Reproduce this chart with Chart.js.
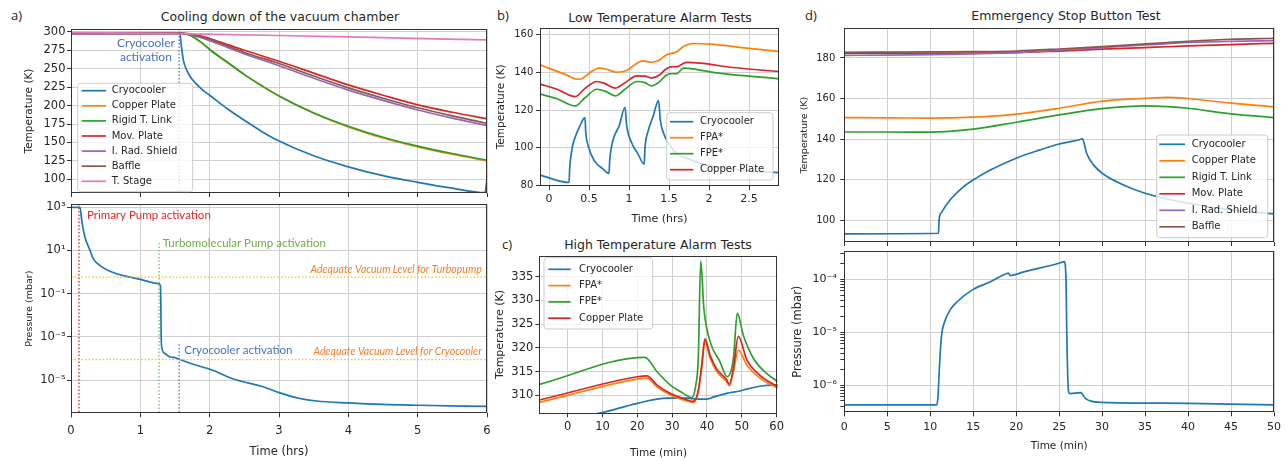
<!DOCTYPE html>
<html>
<head>
<meta charset="utf-8">
<title>Vacuum chamber tests</title>
<script src="https://cdn.jsdelivr.net/npm/chart.js"></script>
<style>
  body { margin: 0; background: #fff; }
  #fig { position: relative; width: 1286px; height: 461px; overflow: hidden; font-family: "DejaVu Sans", sans-serif; color: #262626; }
  #fig canvas { position: absolute; }
  .tag { position: absolute; font: 13px "Open Sans", sans-serif; line-height: 16px; }
  .ttl { position: absolute; font-size: 12.5px; line-height: 16px; white-space: nowrap; transform: translateX(-50%); }
</style>
</head>
<body>
<div id="fig">
  <div class="tag" style="left:11px;top:7px">a)</div>
  <div class="ttl" style="left:280px;top:9px">Cooling down of the vacuum chamber</div>
  <div class="tag" style="left:497px;top:7px">b)</div>
  <div class="ttl" style="left:660px;top:10px">Low Temperature Alarm Tests</div>
  <div class="tag" style="left:502px;top:236px">c)</div>
  <div class="ttl" style="left:658px;top:237px">High Temperature Alarm Tests</div>
  <div class="tag" style="left:805px;top:7px">d)</div>
  <div class="ttl" style="left:1066px;top:8px">Emmergency Stop Button Test</div>

  <canvas id="coolTemp" width="490" height="200" style="left:0;top:0"></canvas>
  <canvas id="coolPress" width="490" height="261" style="left:0;top:200px"></canvas>
  <canvas id="lowAlarm" width="300" height="228" style="left:485px;top:0"></canvas>
  <canvas id="highAlarm" width="300" height="231" style="left:485px;top:230px"></canvas>
  <canvas id="stopTemp" width="496" height="246" style="left:790px;top:0"></canvas>
  <canvas id="stopPress" width="496" height="215" style="left:790px;top:246px"></canvas>
</div>

<script>
// ---- a) cooling down (time in hrs, temperature in K)
const coolTimeCryo = [0, 1.57, 1.59, 1.62, 1.66, 1.72, 1.8, 1.9, 2.0, 2.25, 2.5, 2.75, 3.0, 3.5, 4.0, 4.5, 5.0, 5.5, 5.97, 6.0];
const coolCryo     = [298, 298, 282, 262, 250, 239, 230, 221, 214, 196, 180, 165, 152, 132, 117, 105, 96, 88, 82, 100];
const coolTimeLink = [0, 1.6, 1.7, 1.8, 1.9, 2.0, 2.25, 2.5, 2.75, 3.0, 3.5, 4.0, 4.5, 5.0, 5.5, 6.0];
const coolCopper   = [298, 298, 296, 291, 284, 276, 259, 242, 227, 213, 190, 171, 156, 144, 134, 125];
const coolLink     = [298, 298, 296, 291, 284, 276, 259, 242, 227, 213, 190, 172, 157, 145, 135, 126];
const coolTimeMov  = [0, 1.6, 1.8, 2.0, 2.25, 2.5, 3.0, 3.5, 4.0, 4.5, 5.0, 5.5, 6.0];
const coolMov      = [298, 298, 296, 291, 283, 275, 260, 244, 228, 214, 201, 191, 182];
const coolShield   = [298, 298, 294, 288, 279, 270, 254, 237, 221, 207, 194, 183, 173];
const coolBaffle   = [298, 298, 295, 290, 281, 272, 257, 240, 224, 210, 197, 186, 176];
const coolTimeStage = [0, 1.5, 3, 4.5, 6];
const coolStage     = [299, 297.5, 295, 292, 289];

// ---- a) pumping (time in hrs, pressure in mbar)
const pumpTime  = [0, 0.13, 0.154, 0.2, 0.274, 0.32, 0.42, 0.56, 0.8, 1.0, 1.26, 1.29, 1.295, 1.3, 1.31, 1.36, 1.43, 1.5, 1.57, 1.76, 1.96, 2.1, 2.24, 2.39, 2.55, 2.77, 3.0, 3.3, 3.54, 4.0, 4.5, 5.0, 6.0];
const pumpPress = [1000, 1000, 257, 43, 10.2, 4.2, 2.0, 1.1, 0.63, 0.46, 0.29, 0.24, 0.048, 1.35e-3, 3.2e-4, 1.66e-4, 1.17e-4, 1.1e-4, 8.9e-5, 5.4e-5, 3.5e-5, 2.4e-5, 1.5e-5, 1.0e-5, 7.4e-6, 4.9e-6, 2.6e-6, 1.4e-6, 1.07e-6, 8.7e-7, 7.4e-7, 6.8e-7, 6.0e-7];

// ---- b) low temperature alarm (time in hrs, K)
const lowTimeCryo = [-0.11, 0.25, 0.26, 0.29, 0.33, 0.38, 0.45, 0.46, 0.49, 0.57, 0.67, 0.75, 0.76, 0.8, 0.88, 0.95, 0.97, 1.03, 1.11, 1.19, 1.2, 1.24, 1.3, 1.37, 1.39, 1.43, 1.5, 1.6, 1.72, 2.0, 2.47, 2.875];
const lowCryo     = [85.6, 81.7, 90, 100, 106, 111, 116, 108, 101, 93, 89, 86.5, 94, 104, 112, 121.5, 112, 103, 97, 91.4, 100, 109, 116.5, 125, 115, 108, 102, 97, 94.5, 90.6, 88, 86.9];
const lowTimeFpa  = [-0.11, 0, 0.22, 0.35, 0.42, 0.53, 0.62, 0.72, 0.85, 0.97, 1.1, 1.18, 1.28, 1.37, 1.47, 1.55, 1.6, 1.68, 1.8, 2.01, 2.47, 2.875];
const lowFpa      = [143.9, 142.2, 138.6, 136.3, 136.8, 140.4, 142.2, 141.6, 140, 140.9, 144.8, 146, 145.3, 146.2, 149.2, 150.1, 150.8, 153.6, 155.2, 154.9, 152.8, 151];
const lowTimeFpe  = [-0.11, 0.1, 0.33, 0.45, 0.6, 0.7, 0.83, 0.95, 1.1, 1.2, 1.28, 1.38, 1.47, 1.53, 1.6, 1.68, 1.8, 2.05, 2.875];
const lowFpe      = [128.4, 126, 122.2, 126.5, 131, 130, 127.5, 131, 135.1, 134.5, 132.8, 135, 138.6, 139.2, 139.3, 142.2, 141.8, 139.9, 136.5];
const lowTimeCu   = [-0.11, 0.1, 0.33, 0.45, 0.6, 0.7, 0.83, 0.95, 1.1, 1.2, 1.28, 1.38, 1.45, 1.52, 1.6, 1.72, 1.89, 2.3, 2.875];
const lowCu       = [133.7, 131, 127.1, 131.5, 135.1, 134, 131.6, 134.5, 138.1, 138, 136.9, 138.5, 141.3, 142.8, 143, 145.2, 144.8, 142.5, 140.4];

// ---- c) high temperature alarm (time in min, K)
const highTimeCryo = [5, 10.2, 20, 28.4, 34.2, 37, 39.9, 41.8, 45.6, 49.5, 51.4, 56.2, 60.3];
const highCryo     = [305.6, 306.4, 308.3, 309.4, 309.4, 309.2, 309.2, 309.6, 310.4, 310.9, 311.3, 312, 312.2];
const highTimeFpa  = [-8.1, 20, 22.7, 25.6, 29.4, 33.2, 36.1, 37.5, 38.5, 39.4, 40.9, 42.8, 45.6, 46.4, 47.6, 49, 51.4, 55.2, 60.3];
const highFpa      = [308.5, 313.4, 313.6, 311.8, 310.1, 309, 308.5, 310.8, 315.7, 321.3, 317.8, 315, 312.9, 312, 315, 319.5, 316.4, 313.6, 311.5];
const highCu       = [309, 313.9, 314.1, 312.2, 310.4, 309.3, 308.7, 311, 316.5, 321.9, 318.4, 315.5, 313.3, 312.3, 315.8, 322.4, 317.5, 314.2, 311.8];
const highTimeFpe  = [-8.1, 22.2, 25.6, 29.4, 33.2, 35.6, 36.8, 37.5, 38.2, 39.1, 40.9, 43.7, 45.8, 47.6, 48.7, 50.4, 53.3, 57.1, 60.3];
const highFpe      = [312.3, 318, 315, 312.2, 310.4, 309.5, 312.2, 317.8, 338.3, 328.3, 321.3, 317.1, 313.9, 317.8, 327.3, 322.7, 317.8, 314.6, 312.9];

// ---- d) emergency stop (time in min)
const stopTimeCryo = [0, 10.96, 11.03, 11.3, 12.3, 13.9, 15, 17, 20, 22.8, 25, 27.5, 27.7, 27.9, 28.2, 29, 30, 32.5, 35, 40, 45, 50];
const stopCryo     = [93.3, 93.6, 100.2, 103.8, 110, 116.6, 119.9, 124.8, 130.6, 134.7, 137.6, 139.9, 140.3, 138, 133, 127.3, 123.2, 117.4, 113.3, 108.4, 105.1, 103.2];
const stopTime     = [0, 5, 10, 15, 20, 25, 30, 35, 37.6, 40, 45, 50];
const stopCopper   = [150.6, 150.5, 150.3, 150.8, 152.3, 155.2, 158.7, 160.1, 160.6, 160, 157.7, 156];
const stopLink     = [143.5, 143.5, 143.4, 144.9, 148.3, 151.9, 155, 156.4, 156, 155.2, 152.4, 150.6];
const stopMov      = [182.3, 182.3, 182.3, 182.4, 182.6, 183.4, 184.3, 185.1, 185.5, 185.9, 186.6, 187.2];
const stopShield   = [181.3, 181.4, 181.6, 182, 182.6, 183.8, 185.1, 186.4, 187, 187.6, 188.2, 188.5];
const stopBaffle   = [182.8, 182.9, 183, 183.1, 183.4, 184.4, 185.6, 186.9, 187.6, 188.2, 189.2, 189.7];
const stopPTime    = [0, 10.76, 10.9, 11.07, 11.3, 11.7, 12.3, 13.1, 15, 17, 18.9, 19.1, 19.3, 20.9, 25, 25.6, 25.8, 25.9, 26.1, 26.3, 27.5, 28.05, 28.8, 30, 40, 50];
const stopPress    = [4.2e-7, 4.2e-7, 6.0e-7, 2.2e-6, 8.2e-6, 1.6e-5, 2.6e-5, 3.7e-5, 6.4e-5, 8.9e-5, 1.28e-4, 1.3e-4, 1.17e-4, 1.37e-4, 2.0e-4, 2.14e-4, 9.5e-5, 7e-6, 7.4e-7, 6.9e-7, 7.2e-7, 5.6e-7, 4.9e-7, 4.7e-7, 4.5e-7, 4.2e-7];

// ---- ticks
const hrsTicks      = [0, 1, 2, 3, 4, 5, 6];
const coolTempTicks = [100, 125, 150, 175, 200, 225, 250, 275, 300];
const pressTicksA   = [1e3, 1e1, 1e-1, 1e-3, 1e-5];
const pressLabelsA  = ['10³', '10¹', '10⁻¹', '10⁻³', '10⁻⁵'];
const lowHrsTicks   = [0, 0.5, 1, 1.5, 2, 2.5];
const lowTempTicks  = [80, 100, 120, 140, 160];
const minTicksC     = [0, 10, 20, 30, 40, 50, 60];
const highTempTicks = [310, 315, 320, 325, 330, 335];
const minTicksD     = [0, 5, 10, 15, 20, 25, 30, 35, 40, 45, 50];
const stopTempTicks = [100, 120, 140, 160, 180];
const pressTicksD   = [1e-4, 1e-5, 1e-6];
const pressLabelsD  = ['10⁻⁴', '10⁻⁵', '10⁻⁶'];
const pressMinorD   = [4e-7, 5e-7, 6e-7, 7e-7, 8e-7, 9e-7, 2e-6, 3e-6, 4e-6, 5e-6, 6e-6, 7e-6, 8e-6, 9e-6,
                       2e-5, 3e-5, 4e-5, 5e-5, 6e-5, 7e-5, 8e-5, 9e-5, 2e-4, 3e-4];

const COL = { blue: '#1f77b4', orange: '#ff7f0e', green: '#2ca02c', red: '#d62728', purple: '#9467bd', brown: '#8c564b', pink: '#e377c2' };
const GRID = '#cfcfcf';
const INK = '#262626';

Chart.defaults.font.family = '"DejaVu Sans", sans-serif';
Chart.defaults.color = INK;

function series(label, color, xs, ys) {
  return {
    label, borderColor: color, backgroundColor: color, borderWidth: 1.7,
    pointRadius: 0, fill: false, cubicInterpolationMode: 'monotone',
    data: xs.map((x, i) => ({ x, y: ys[i] }))
  };
}

function axis(o) {
  return {
    type: o.log ? 'logarithmic' : 'linear',
    min: o.min, max: o.max,
    grid: {
      color: c => (c.tick && c.tick.minor) ? 'rgba(0,0,0,0)' : GRID,
      lineWidth: 1, tickColor: '#333', tickLength: 4, drawTicks: true
    },
    border: { display: false },
    ticks: {
      display: !!o.labels, autoSkip: false, maxRotation: 0, padding: o.pad == null ? 3 : o.pad,
      color: INK, font: { size: o.size || 11 },
      callback: (v, i, t) => {
        if (t[i] && t[i].minor) return '';
        const k = o.ticks.indexOf(v);
        return Array.isArray(o.labels) ? o.labels[k] : String(v);
      }
    },
    title: o.title ? { display: true, text: o.title, color: INK, font: { size: o.tsize }, padding: { top: 0, bottom: o.tpad || 0 } } : { display: false },
    afterBuildTicks: s => {
      s.ticks = o.ticks.map(v => ({ value: v })).concat((o.minor || []).map(v => ({ value: v, minor: true })));
    },
    afterFit: s => {
      if (o.w != null) s.width = o.w;
      if (o.h != null) s.height = o.h;
      s.paddingLeft = s.paddingRight = s.paddingTop = s.paddingBottom = 0;
    }
  };
}

// annotations, axes frame and in-plot legend
function deco(cfg) {
  return {
    id: 'deco',
    afterDatasetsDraw(chart) {
      const { ctx, chartArea: a, scales: { x, y } } = chart;
      ctx.save();
      ctx.beginPath();
      ctx.rect(a.left, a.top, a.right - a.left, a.bottom - a.top);
      ctx.clip();
      ctx.setLineDash([1.5, 2]);
      ctx.lineWidth = 1.3;
      (cfg.lines || []).forEach(m => {
        ctx.strokeStyle = m.color;
        ctx.beginPath();
        if (m.x != null) {
          const px = x.getPixelForValue(m.x);
          ctx.moveTo(px, m.from != null ? y.getPixelForValue(m.from) : a.top);
          ctx.lineTo(px, a.bottom);
        } else {
          const py = y.getPixelForValue(m.y);
          ctx.moveTo(a.left, py);
          ctx.lineTo(a.right, py);
        }
        ctx.stroke();
      });
      ctx.restore();

      ctx.save();
      (cfg.notes || []).forEach(n => {
        ctx.fillStyle = n.color;
        ctx.font = n.font;
        ctx.textAlign = n.align || 'left';
        ctx.textBaseline = 'middle';
        ctx.fillText(n.text, x.getPixelForValue(n.x), y.getPixelForValue(n.y));
      });

      ctx.strokeStyle = '#333';
      ctx.lineWidth = 1;
      ctx.strokeRect(Math.round(a.left) + 0.5, Math.round(a.top) + 0.5, Math.round(a.right - a.left) - 1, Math.round(a.bottom - a.top) - 1);

      const L = cfg.legend;
      if (L) {
        ctx.beginPath();
        if (ctx.roundRect) ctx.roundRect(L.x, L.y, L.w, L.h, 3); else ctx.rect(L.x, L.y, L.w, L.h);
        ctx.fillStyle = 'rgba(255,255,255,0.8)';
        ctx.fill();
        ctx.strokeStyle = '#cccccc';
        ctx.stroke();
        ctx.font = '10px "DejaVu Sans"';
        ctx.textAlign = 'left';
        ctx.textBaseline = 'middle';
        chart.data.datasets.forEach((d, i) => {
          const yy = L.first + i * L.row;
          ctx.strokeStyle = d.borderColor;
          ctx.lineWidth = 1.7;
          ctx.beginPath();
          ctx.moveTo(L.sw0, yy);
          ctx.lineTo(L.sw1, yy);
          ctx.stroke();
          ctx.fillStyle = INK;
          ctx.fillText(d.label, L.tx, yy);
        });
      }
      ctx.restore();
    }
  };
}

function makeChart(id, datasets, cfg) {
  // later series sit on top, as in the original figure
  datasets.forEach((d, i) => { d.order = datasets.length - i; });
  return new Chart(document.getElementById(id), {
    type: 'line',
    data: { datasets },
    options: {
      responsive: false, animation: false, events: [],
      layout: { padding: cfg.pad },
      plugins: { legend: { display: false }, tooltip: { enabled: false }, title: { display: false } },
      scales: { x: cfg.x, y: cfg.y }
    },
    plugins: [deco(cfg)]
  });
}

// a) top
makeChart('coolTemp', [
  series('Cryocooler', COL.blue, coolTimeCryo, coolCryo),
  series('Copper Plate', COL.orange, coolTimeLink, coolCopper),
  series('Rigid T. Link', COL.green, coolTimeLink, coolLink),
  series('Mov. Plate', COL.red, coolTimeMov, coolMov),
  series('I. Rad. Shield', COL.purple, coolTimeMov, coolShield),
  series('Baffle', COL.brown, coolTimeMov, coolBaffle),
  series('T. Stage', COL.pink, coolTimeStage, coolStage)
], {
  pad: { left: 22.7, right: 3, top: 29, bottom: 0 },
  x: axis({ min: 0, max: 6, ticks: hrsTicks, labels: false, h: 7 }),
  y: axis({ min: 81.5, max: 303.8, ticks: coolTempTicks, labels: true, size: 11.5, pad: 1.5, w: 48.3, title: 'Temperature (K)', tsize: 10.5 }),
  lines: [{ x: 1.56, color: '#4472c4' }],
  notes: [
    { text: 'Cryocooler', x: 1.08, y: 285, color: '#4472c4', align: 'center', font: '12px Lato' },
    { text: 'activation', x: 1.08, y: 265, color: '#4472c4', align: 'center', font: '12px Lato' }
  ],
  legend: { x: 77.7, y: 83.3, w: 115, h: 108.4, first: 90.7, row: 15.1, sw0: 81.7, sw1: 106, tx: 111.7 }
});

// a) bottom
makeChart('coolPress', [
  series('Pressure', COL.blue, pumpTime, pumpPress)
], {
  pad: { left: 23.6, right: 3, top: 4, bottom: 0 },
  x: axis({ min: 0, max: 6, ticks: hrsTicks, labels: true, size: 11.5, pad: 7, h: 47.7, title: 'Time (hrs)', tsize: 11.5, tpad: 1.8 }),
  y: axis({ log: true, min: 2.88e-7, max: 1422, ticks: pressTicksA, labels: pressLabelsA, size: 11.5, pad: 1.5, w: 47.4, title: 'Pressure (mbar)', tsize: 9.5 }),
  lines: [
    { x: 0.115, color: '#e0262b' },
    { x: 1.27, from: 22, color: '#7cbf4b' },
    { x: 1.56, from: 4.6e-4, color: '#4472c4' },
    { y: 0.58, color: '#ffc000' },
    { y: 8.9e-5, color: '#ffc000' }
  ],
  notes: [
    { text: 'Primary Pump activation', x: 0.23, y: 407, color: '#e0262b', font: '11.5px Lato' },
    { text: 'Turbomolecular Pump activation', x: 1.323, y: 22, color: '#70ad47', font: '11.5px Lato' },
    { text: 'Adequate Vacuum Level for Turbopump', x: 5.924, y: 1.3, color: '#ed7d31', align: 'right', font: 'italic 10.5px Lato' },
    { text: 'Cryocooler activation', x: 1.634, y: 2.4e-4, color: '#4472c4', font: '11.5px Lato' },
    { text: 'Adequate Vacuum Level for Cryocooler', x: 5.924, y: 2.0e-4, color: '#ed7d31', align: 'right', font: 'italic 10.5px Lato' }
  ]
});

// b)
makeChart('lowAlarm', [
  series('Cryocooler', COL.blue, lowTimeCryo, lowCryo),
  series('FPA*', COL.orange, lowTimeFpa, lowFpa),
  series('FPE*', COL.green, lowTimeFpe, lowFpe),
  series('Copper Plate', COL.red, lowTimeCu, lowCu)
], {
  pad: { left: 9.7, right: 6, top: 28, bottom: 0 },
  x: axis({ min: -0.1125, max: 2.875, ticks: lowHrsTicks, labels: true, size: 11, pad: 3, h: 42.3, title: 'Time (hrs)', tsize: 11, tpad: 2.4 }),
  y: axis({ min: 80, max: 163.4, ticks: lowTempTicks, labels: true, size: 10, pad: 2.7, w: 45.3, title: 'Temperature (K)', tsize: 10.5 }),
  legend: { x: 181.7, y: 112.7, w: 106.3, h: 67.3, first: 121.7, row: 16, sw0: 185, sw1: 208.3, tx: 215 }
});

// c)
makeChart('highAlarm', [
  series('Cryocooler', COL.blue, highTimeCryo, highCryo),
  series('FPA*', COL.orange, highTimeFpa, highFpa),
  series('FPE*', COL.green, highTimeFpe, highFpe),
  series('Copper Plate', COL.red, highTimeFpa, highCu)
], {
  pad: { left: 8.4, right: 7.3, top: 25.7, bottom: 0 },
  x: axis({ min: -8.15, max: 60.3, ticks: minTicksC, labels: true, size: 11.5, pad: 3, h: 47.7, title: 'Time (min)', tsize: 10.5, tpad: 1 }),
  y: axis({ min: 306.2, max: 339.4, ticks: highTempTicks, labels: true, size: 11.5, pad: 2, w: 45.9, title: 'Temperature (K)', tsize: 11 }),
  legend: { x: 59, y: 27.7, w: 108.7, h: 71.3, first: 39.3, row: 16.3, sw0: 63.3, sw1: 85.7, tx: 94 }
});

// d) top
makeChart('stopTemp', [
  series('Cryocooler', COL.blue, stopTimeCryo, stopCryo),
  series('Copper Plate', COL.orange, stopTime, stopCopper),
  series('Rigid T. Link', COL.green, stopTime, stopLink),
  series('Mov. Plate', COL.red, stopTime, stopMov),
  series('I. Rad. Shield', COL.purple, stopTime, stopShield),
  series('Baffle', COL.brown, stopTime, stopBaffle)
], {
  pad: { left: 9.3, right: 12, top: 28.3, bottom: 0 },
  x: axis({ min: 0, max: 50, ticks: minTicksD, labels: false, h: 4 }),
  y: axis({ min: 89.3, max: 194.6, ticks: stopTempTicks, labels: true, size: 10, pad: 5, w: 45, title: 'Temperature (K)', tsize: 9.5 }),
  legend: { x: 366.7, y: 135, w: 111, h: 102.7, first: 144.3, row: 16.5, sw0: 369.3, sw1: 395, tx: 401.7 }
});

// d) bottom
makeChart('stopPress', [
  series('Pressure', COL.blue, stopPTime, stopPress)
], {
  pad: { left: 1.4, right: 12, top: 5, bottom: 0 },
  x: axis({ min: 0, max: 50, ticks: minTicksD, labels: true, size: 11, pad: 4, h: 48.7, title: 'Time (min)', tsize: 10.5, tpad: 8.7 }),
  y: axis({ log: true, min: 3.05e-7, max: 3.4e-4, ticks: pressTicksD, minor: pressMinorD, labels: pressLabelsD, size: 11, pad: 3.5, w: 52.9, title: 'Pressure (mbar)', tsize: 11.5 })
});
</script>
</body>
</html>
